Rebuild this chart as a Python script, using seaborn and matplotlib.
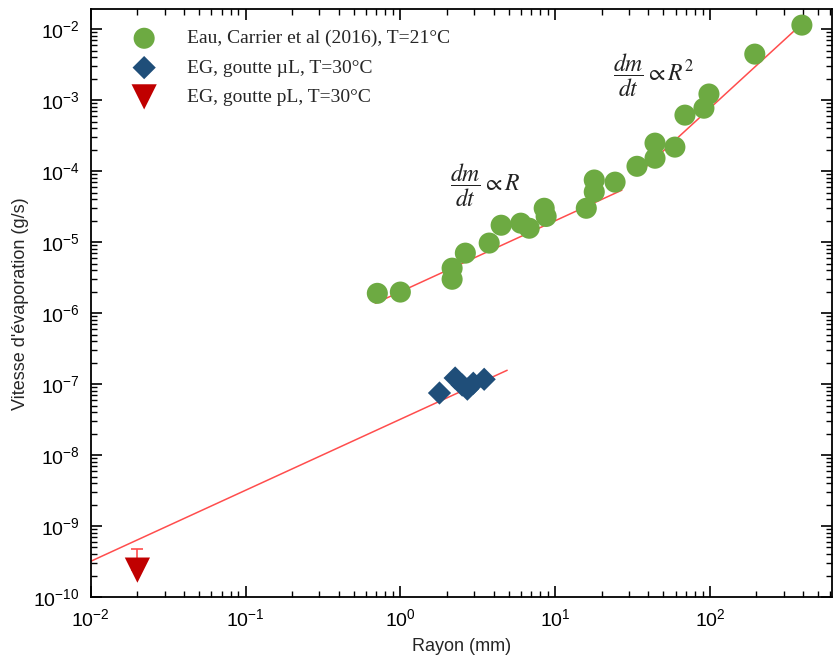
import matplotlib
matplotlib.use("Agg")
import matplotlib.pyplot as plt
import numpy as np
import pandas as pd
import seaborn as sns

# ---- data ----
water_r = [0.71, 1.0, 2.16, 2.16, 2.63, 3.75, 4.48, 6.0, 6.8, 8.5, 8.75, 15.9, 17.9, 17.9,
           24.4, 33.8, 44.2, 44.2, 59.4, 69.0, 91.5, 98.6, 195.0, 393.0]
water_v = [1.9e-6, 1.98e-6, 4.3e-6, 3.0e-6, 7.0e-6, 9.7e-6, 1.73e-5, 1.85e-5, 1.57e-5, 3.0e-5, 2.3e-5,
           3.0e-5, 7.5e-5, 5.1e-5, 7.0e-5, 1.17e-4, 2.48e-4, 1.52e-4, 2.18e-4, 6.15e-4, 7.7e-4,
           1.22e-3, 4.45e-3, 1.14e-2]
eg_ul_r = [1.79, 2.26, 2.51, 2.71, 2.96, 3.48]
eg_ul_v = [7.5e-8, 1.22e-7, 9.7e-8, 8.5e-8, 1.03e-7, 1.17e-7]
eg_pl_r = [0.02]
eg_pl_v = [2.4e-10]
eg_pl_err_up = [2.3e-10]

labels = ["Eau, Carrier et al (2016), T=21°C", "EG, goutte µL, T=30°C", "EG, goutte pL, T=30°C"]

# power-law fits: (prefactor, exponent, r_min, r_max)
fits = [(3.2e-8, 1.0, 0.01, 4.9),
        (2.0e-6, 1.0, 0.69, 27.0),
        (7.7e-8, 2.0, 33.8, 380.0)]

# ---- style ----
sns.set_theme(style="ticks")
plt.rcParams["font.family"] = ["Liberation Sans", "DejaVu Sans"]
plt.rcParams["mathtext.fontset"] = "stix"

fig = plt.figure(figsize=(8.33, 6.62), dpi=100)
ax = fig.add_axes([0.109, 0.098, 0.890, 0.888])

c_green = "#6DAA42"
c_blue = "#1F4E79"
c_red = "#C00000"
c_line = "#FF4D4D"

for a, b, lo, hi in fits:
    rr = np.logspace(np.log10(lo), np.log10(hi), 50)
    sns.lineplot(x=rr, y=a * rr ** b, ax=ax, color=c_line, lw=1.1, zorder=2)

ax.errorbar(eg_pl_r, eg_pl_v, yerr=[[0], eg_pl_err_up], fmt="none", ecolor=c_line,
            elinewidth=1.2, capsize=4, capthick=1.2, zorder=1)

sns.scatterplot(x=water_r, y=water_v, ax=ax, marker="o", s=230, color=c_green,
                edgecolor="none", label=labels[0], zorder=3)
sns.scatterplot(x=eg_ul_r, y=eg_ul_v, ax=ax, marker="D", s=140, color=c_blue,
                edgecolor="none", label=labels[1], zorder=3)
sns.scatterplot(x=eg_pl_r, y=eg_pl_v, ax=ax, marker="v", s=330, color=c_red,
                edgecolor="none", label=labels[2], zorder=3)

ax.set_xscale("log")
ax.set_yscale("log")
ax.set_xlim(1e-2, 10 ** 2.79)
ax.set_ylim(1e-10, 10 ** -1.72)

ax.tick_params(which="both", direction="in", top=True, right=True, colors="black")
ax.tick_params(which="major", length=8, width=1.2, labelsize=14, pad=8)
ax.tick_params(which="minor", length=4, width=1.0)
ax.xaxis.set_minor_locator(matplotlib.ticker.LogLocator(base=10, subs=np.arange(2, 10)))
ax.yaxis.set_minor_locator(matplotlib.ticker.LogLocator(base=10, subs=np.arange(2, 10)))
ax.xaxis.set_minor_formatter(matplotlib.ticker.NullFormatter())
ax.yaxis.set_minor_formatter(matplotlib.ticker.NullFormatter())
for sp in ax.spines.values():
    sp.set_color("black")
    sp.set_linewidth(1.3)

ax.set_xlabel("Rayon (mm)", fontsize=13, labelpad=6)
ax.set_ylabel("Vitesse d'évaporation (g/s)", fontsize=13, labelpad=3)

ax.annotate(r"$\dfrac{dm}{dt}\propto R$", xy=(450, 477), xycoords="figure pixels",
            fontsize=17, ha="left", va="center", color="#222222")
ax.annotate(r"$\dfrac{dm}{dt}\propto R^2$", xy=(613, 587), xycoords="figure pixels",
            fontsize=17, ha="left", va="center", color="#222222")

leg = ax.legend(loc="upper left", bbox_to_anchor=(0.03, 0.985), frameon=False,
                prop={"family": "Liberation Serif", "size": 14}, handletextpad=1.2,
                labelspacing=0.6, borderaxespad=0.2)

fig.savefig("out.png", dpi=100)
